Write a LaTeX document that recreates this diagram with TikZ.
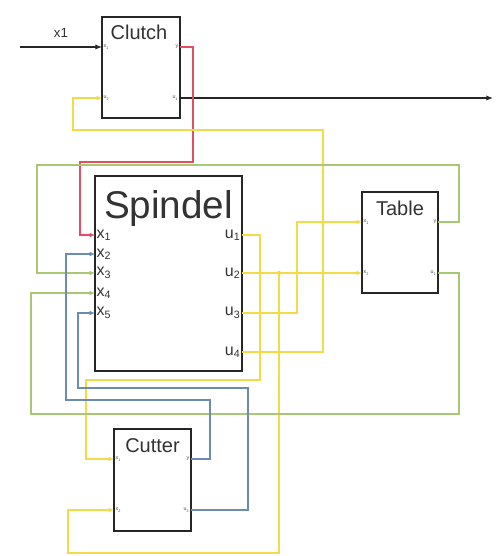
\documentclass[tikz,border=0pt]{standalone}
\usepackage{fontspec}
\setmainfont{Liberation Sans}
\usetikzlibrary{positioning}
\usetikzlibrary{arrows.meta}
\definecolor{wirered}{RGB}{228,78,100}
\definecolor{wireyellow}{RGB}{242,218,72}
\definecolor{wiregreen}{RGB}{168,200,115}
\definecolor{wireblue}{RGB}{108,138,178}
\tikzset{
    block/.style={draw=black!85, line width=1.6pt, fill=white, inner sep=0pt},
    title/.style={anchor=base, inner sep=0pt, font=\fontsize{15}{15}\selectfont, text=black!80},
    port/.style={inner sep=1pt, font=\fontsize{12}{12}\selectfont, text=black!80},
    tinyport/.style={inner sep=1pt, font=\fontsize{4}{4}\selectfont, text=black!70},
    signal/.style={-{Latex[length=5pt,width=4pt]}, line width=0.9pt, black!85},
    redwire/.style={-{Latex[length=4pt,width=3.5pt]}, line width=1.4pt, wirered},
    yellowwire/.style={-{Latex[length=4pt,width=3.5pt]}, line width=1.3pt, wireyellow},
    greenwire/.style={-{Latex[length=4pt,width=3.5pt]}, line width=0.9pt, wiregreen},
    bluewire/.style={-{Latex[length=4pt,width=3.5pt]}, line width=0.9pt, wireblue},
    x=0.75pt, y=-0.75pt
}
\begin{document}
\begin{tikzpicture}
\useasboundingbox (0,0) rectangle (496,556);

% blocks
\node[block, minimum width=78*0.75pt, minimum height=101*0.75pt] (clutch) at (141,67.5) {};
\node[block, minimum width=147*0.75pt, minimum height=195*0.75pt] (spindel) at (168.5,273.5) {};
\node[block, minimum width=76*0.75pt, minimum height=101*0.75pt] (table) at (400,242.5) {};
\node[block, minimum width=77*0.75pt, minimum height=102*0.75pt] (cutter) at (152.5,480) {};

\node[title] (clutchname) at (139,40) {Clutch};
\node[title, font=\fontsize{29}{29}\selectfont] (spindelname) at (168.5,218) {Spindel};
\node[title] (tablename) at (400,215) {Table};
\node[title] (cuttername) at (152.5,452) {Cutter};

% ports
\coordinate (cl-x1) at (102,47);
\coordinate (cl-u) at (102,98);
\coordinate (cl-y) at (180,47);
\coordinate (cl-o) at (180,98);
\foreach \i/\y in {1/235,2/254,3/273,4/293,5/313} {
    \coordinate (sp-x\i) at (95,\y);
    \node[port, anchor=west] (sp-xl\i) at (95,\y) {x\textsubscript{\i}};
}
\foreach \i/\y in {1/235,2/273,3/313,4/352} {
    \coordinate (sp-u\i) at (242,\y);
    \node[port, anchor=east] (sp-ul\i) at (242,\y) {u\textsubscript{\i}};
}
\coordinate (tb-x1) at (362,222);
\coordinate (tb-x2) at (362,273);
\coordinate (tb-y) at (438,222);
\coordinate (tb-u) at (438,273);
\coordinate (ct-x1) at (114,459);
\coordinate (ct-x2) at (114,510);
\coordinate (ct-y) at (191,459);
\coordinate (ct-u) at (191,510);

\node[tinyport, anchor=west] (cl-l1) at (cl-x1) {x\textsubscript{1}};
\node[tinyport, anchor=west] (cl-l2) at (cl-u) {u\textsubscript{2}};
\node[tinyport, anchor=east] (cl-l3) at (cl-y) {y};
\node[tinyport, anchor=east] (cl-l4) at (cl-o) {u\textsubscript{1}};
\node[tinyport, anchor=west] (tb-l1) at (tb-x1) {x\textsubscript{1}};
\node[tinyport, anchor=west] (tb-l2) at (tb-x2) {x\textsubscript{2}};
\node[tinyport, anchor=east] (tb-l3) at (tb-y) {y};
\node[tinyport, anchor=east] (tb-l4) at (tb-u) {u\textsubscript{1}};
\node[tinyport, anchor=west] (ct-l1) at (ct-x1) {x\textsubscript{1}};
\node[tinyport, anchor=west] (ct-l2) at (ct-x2) {x\textsubscript{2}};
\node[tinyport, anchor=east] (ct-l3) at (ct-y) {y};
\node[tinyport, anchor=east] (ct-l4) at (ct-u) {u\textsubscript{2}};

% outside ends
\coordinate (in) at (20,47);
\coordinate (out) at (493,98);

% black signals
\draw[signal] (in) -- (cl-x1) node[midway, above=3pt, black!80, font=\fontsize{10}{10}\selectfont] (inlabel) {x1};
\draw[signal] (cl-o) -- (out);

% red
\draw[redwire] (cl-y) -- (193,47) -- (193,162) -- (80,162) -- (80,235) -- (sp-x1);

% yellow
\draw[yellowwire] (sp-u4) -- (323,352) -- (323,130) -- (73,130) -- (73,98) -- (cl-u);
\draw[yellowwire] (sp-u1) -- (260,235) -- (260,380) -- (86,380) -- (86,459) -- (ct-x1);
\draw[yellowwire] (sp-u2) -- (tb-x2);
\draw[yellowwire] (279,273) -- (279,553) -- (68,553) -- (68,510) -- (ct-x2);
\fill[wireyellow] (279,273) circle (1.6pt);
\draw[yellowwire] (sp-u3) -- (297,313) -- (297,222) -- (tb-x1);

% green
\draw[greenwire] (tb-y) -- (459,222) -- (459,165) -- (37,165) -- (37,273) -- (sp-x3);
\draw[greenwire] (tb-u) -- (459,273) -- (459,414) -- (31,414) -- (31,293) -- (sp-x4);

% blue
\draw[bluewire] (ct-y) -- (210,459) -- (210,400) -- (66,400) -- (66,254) -- (sp-x2);
\draw[bluewire] (ct-u) -- (248,510) -- (248,388) -- (78,388) -- (78,313) -- (sp-x5);
\end{tikzpicture}
\end{document}
